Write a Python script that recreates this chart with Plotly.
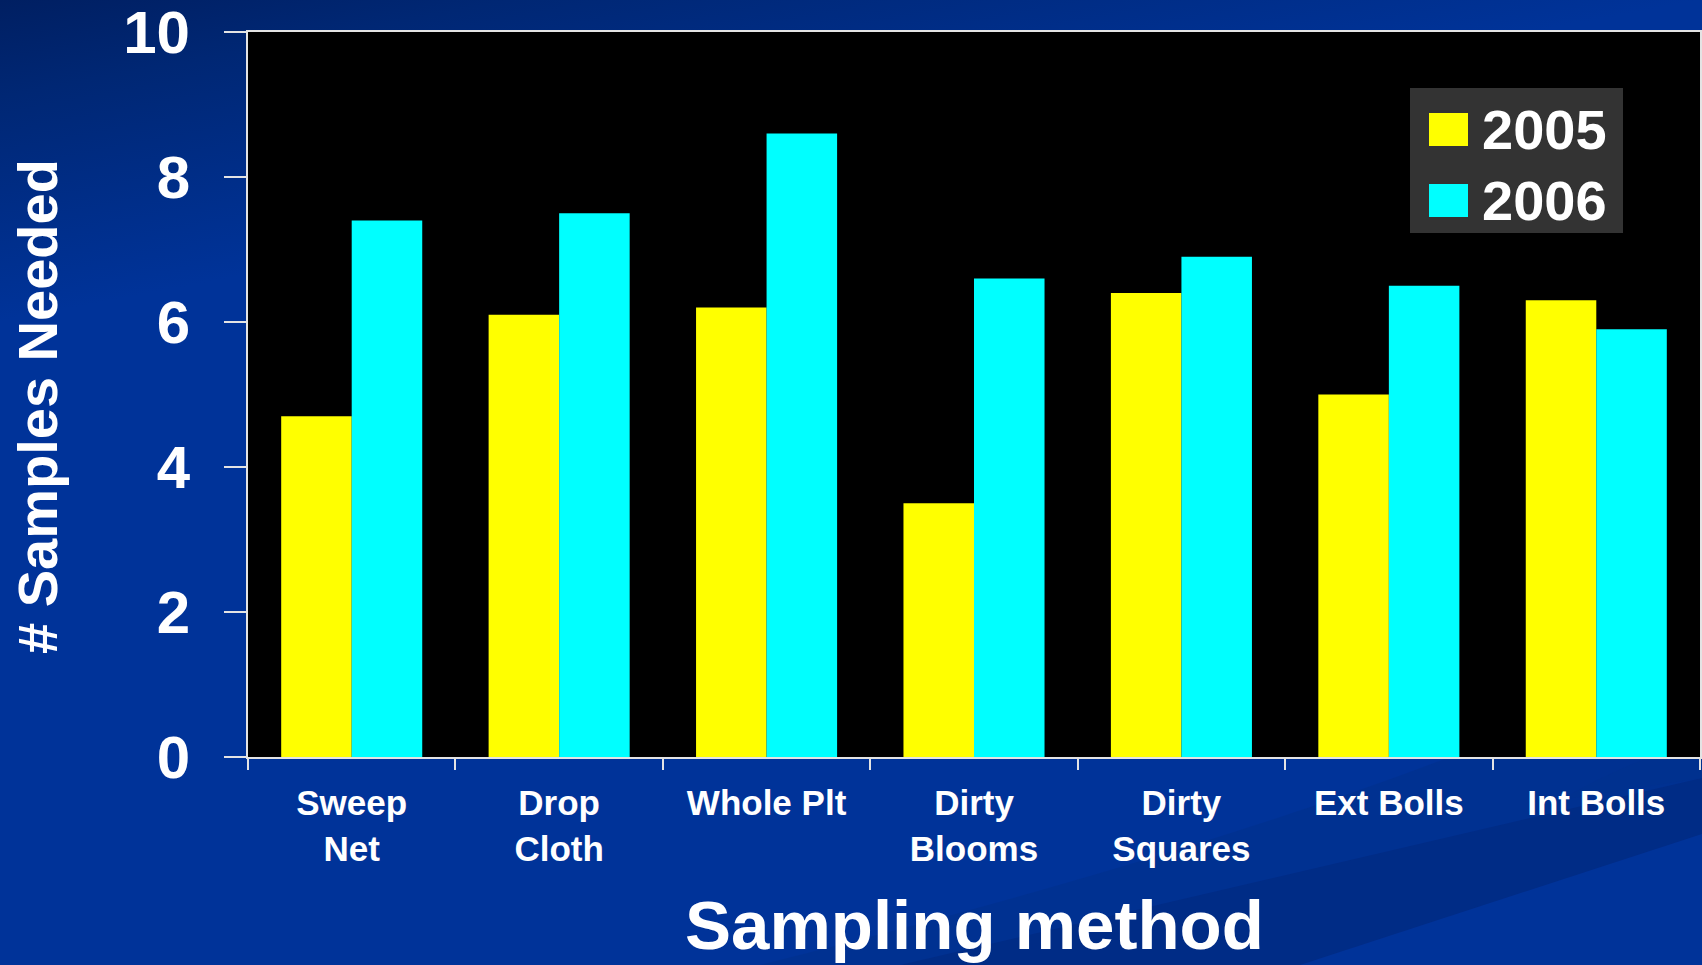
import base64
import plotly.graph_objects as go

# ---- data -------------------------------------------------------------
methods = ["Sweep<br>Net", "Drop<br>Cloth", "Whole Plt", "Dirty<br>Blooms",
           "Dirty<br>Squares", "Ext Bolls", "Int Bolls"]
samples_2005 = [4.7, 6.1, 6.2, 3.5, 6.4, 5.0, 6.3]
samples_2006 = [7.4, 7.5, 8.6, 6.6, 6.9, 6.5, 5.9]
series_names = ["2005", "2006"]
y_ticks = [0, 2, 4, 6, 8, 10]

# ---- styling ----------------------------------------------------------
W, H = 1702, 965
M_L, M_R, M_T, M_B = 248, 2, 32, 208
PW, PH = W - M_L - M_R, H - M_T - M_B
FONT = "Liberation Sans, Arial, Helvetica, sans-serif"
COLORS = ["#ffff00", "#00ffff"]
AXIS_COLOR = "#e4e4e4"

# slide background: navy-to-blue gradient with soft diagonal swooshes
svg = f"""<svg xmlns='http://www.w3.org/2000/svg' width='{W}' height='{H}' viewBox='0 0 {W} {H}'>
<defs><linearGradient id='g' x1='0' y1='0' x2='0.1' y2='0.3'>
<stop offset='0' stop-color='#001f62'/><stop offset='0.3' stop-color='#002774'/>
<stop offset='1' stop-color='#003399'/></linearGradient></defs>
<rect width='{W}' height='{H}' fill='url(#g)'/>
<path d='M760 965 Q1180 860 1450 757 L1702 757 L1702 785 L900 965 Z' fill='#00318f' opacity='0.85'/>
<path d='M900 965 L1702 778 L1702 834 L1300 965 Z' fill='#002c86'/>
<path d='M1560 800 Q1610 772 1650 757 L1702 757 L1702 778 Z' fill='#00318f'/>
</svg>"""
bg_src = "data:image/svg+xml;base64," + base64.b64encode(svg.encode()).decode()

fig = go.Figure()
for name, vals, col in zip(series_names, [samples_2005, samples_2006], COLORS):
    fig.add_trace(go.Bar(x=methods, y=vals, name=name, marker_color=col,
                         marker_line_width=0, showlegend=False))

def px_x(px):
    return (px - M_L) / PW

def px_y(py):
    return (H - M_B - py) / PH

shapes = [
    # black plotting area
    dict(type="rect", xref="x domain", yref="y domain", x0=0, x1=1, y0=0, y1=1,
         fillcolor="#000000", line_width=0, layer="below"),
    # legend panel
    dict(type="rect", xref="paper", yref="paper",
         x0=px_x(1410), x1=px_x(1623), y0=px_y(233), y1=px_y(88),
         fillcolor="#333333", line_width=0, layer="above"),
]
annotations = []
row_tops = [113, 184]
for name, col, top in zip(series_names, COLORS, row_tops):
    shapes.append(dict(type="rect", xref="paper", yref="paper",
                       x0=px_x(1429), x1=px_x(1468), y0=px_y(top + 33), y1=px_y(top),
                       fillcolor=col, line_width=0, layer="above"))
    annotations.append(dict(text=name, xref="paper", yref="paper",
                            x=px_x(1480), y=px_y(top + 16), xanchor="left", yanchor="middle",
                            showarrow=False,
                            font=dict(family=FONT, size=56, color="white", weight="bold")))

annotations.append(dict(text="# Samples Needed", xref="paper", yref="paper",
                        x=px_x(38), y=px_y(407), xanchor="center", yanchor="middle",
                        textangle=-90, showarrow=False,
                        font=dict(family=FONT, size=56, color="white", weight="bold")))
annotations.append(dict(text="Sampling method", xref="paper", yref="paper",
                        x=0.5, y=px_y(925), xanchor="center", yanchor="middle",
                        showarrow=False,
                        font=dict(family=FONT, size=69, color="white", weight="bold")))

fig.update_layout(
    width=W, height=H,
    margin=dict(l=M_L, r=M_R, t=M_T, b=M_B, pad=0, autoexpand=False),
    paper_bgcolor="#003399", plot_bgcolor="#000000",
    barmode="group", bargap=0.32, bargroupgap=0,
    font=dict(family=FONT, color="white"),
    shapes=shapes, annotations=annotations,
    images=[dict(source=bg_src, xref="paper", yref="paper",
                 x=-M_L / PW, y=1 + M_T / PH, sizex=W / PW, sizey=H / PH,
                 xanchor="left", yanchor="top", sizing="stretch", layer="below")],
)
fig.update_xaxes(
    automargin=False,
    showline=True, linecolor=AXIS_COLOR, linewidth=2, mirror=True,
    ticks="outside", tickson="boundaries", ticklen=11, tickwidth=2, tickcolor=AXIS_COLOR,
    tickfont=dict(family=FONT, size=35, color="white", weight="bold"),
    ticklabelstandoff=14, showgrid=False, zeroline=False,
)
fig.update_yaxes(
    automargin=False,
    range=[0, 10], tickvals=y_ticks, ticktext=[str(v) for v in y_ticks],
    showline=True, linecolor=AXIS_COLOR, linewidth=2, mirror=True,
    ticks="outside", ticklen=22, tickwidth=2, tickcolor=AXIS_COLOR,
    tickfont=dict(family=FONT, size=60, color="white", weight="bold"),
    ticklabelstandoff=22, ticklabeloverflow="allow",
    showgrid=False, zeroline=False,
)

fig.write_html("out.html")
